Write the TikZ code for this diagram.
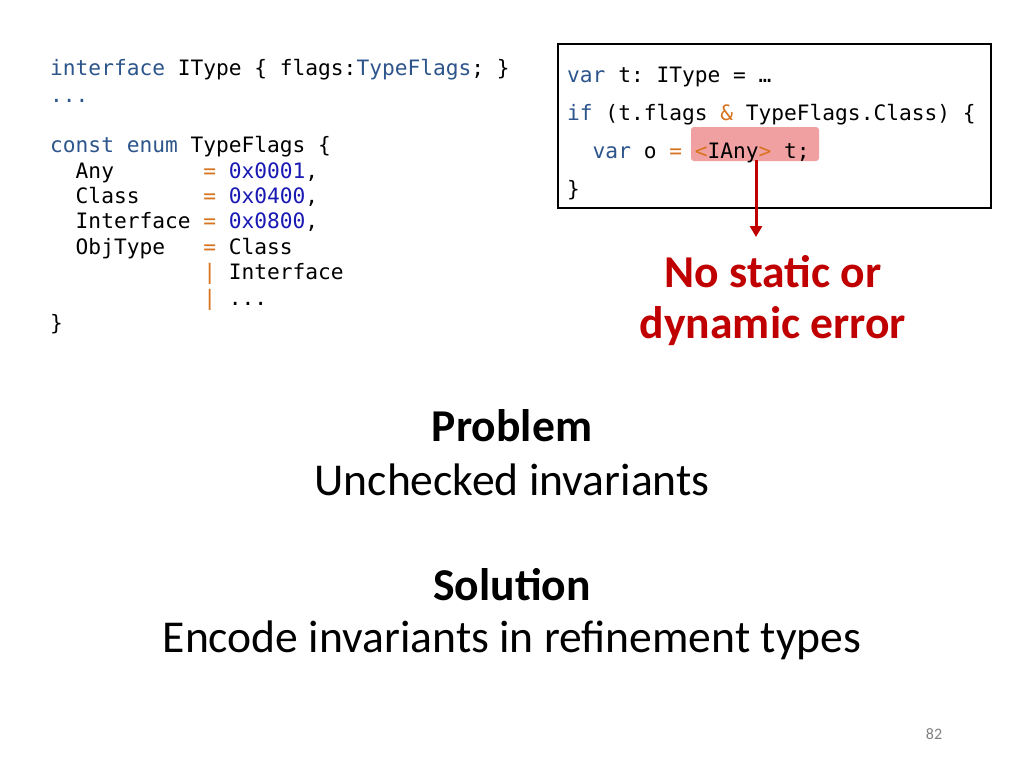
\documentclass[tikz,border=0pt]{standalone}
\usepackage{fontspec}
\usetikzlibrary{arrows.meta}
\setmainfont{Carlito}
\setmonofont{DejaVu Sans Mono}
\definecolor{kw}{RGB}{45,85,140}
\definecolor{num}{RGB}{25,25,180}
\definecolor{op}{RGB}{215,115,30}
\definecolor{alert}{RGB}{192,0,0}
\definecolor{hl}{RGB}{240,160,160}
\newcommand{\K}[1]{\textcolor{kw}{#1}}
\newcommand{\N}[1]{\textcolor{num}{#1}}
\newcommand{\Op}[1]{\textcolor{op}{#1}}
\begin{document}
\begin{tikzpicture}[x=1pt,y=-1pt,
  code/.style={anchor=base west,inner sep=0pt,font=\fontsize{21.2}{25}\ttfamily},
  big/.style={inner sep=0pt,font=\fontsize{45.6}{54}\selectfont},
  bigb/.style={inner sep=0pt,font=\fontsize{45.6}{54}\selectfont\bfseries}]
\useasboundingbox (0,0) rectangle (1024,768);
\fill[white] (0,0) rectangle (1024,768);
% left code
\node[code] (l1) at (50,75) {\K{interface} IType \{ flags:\K{TypeFlags}; \}};
\node[code] (l2) at (50,102) {\K{...}};
\node[code] (l3) at (50,152) {\K{const} \K{enum} TypeFlags \{};
\node[code] (l4) at (50,178) {\ \ Any\ \ \ \ \ \ \ \Op{=} \N{0x0001},};
\node[code] (l5) at (50,203) {\ \ Class\ \ \ \ \ \Op{=} \N{0x0400},};
\node[code] (l6) at (50,228) {\ \ Interface \Op{=} \N{0x0800},};
\node[code] (l7) at (50,254) {\ \ ObjType\ \ \ \Op{=} Class};
\node[code] (l8) at (50,279) {\ \ \ \ \ \ \ \ \ \ \ \ \Op{|} Interface};
\node[code] (l9) at (50,305) {\ \ \ \ \ \ \ \ \ \ \ \ \Op{|} ...};
\node[code] (l10) at (50,330) {\}};
% right box
\fill[hl,rounded corners=3pt] (691,127) rectangle (819,161);
\node[draw,line width=2pt,minimum width=433pt,minimum height=164pt,anchor=north west,inner sep=0pt] (box) at (557,43) {};
\node[code] (r1) at (567,82) {\K{var} t: IType = …};
\node[code] (r2) at (567,120) {\K{if} (t.flags \Op{\&} TypeFlags.Class) \{};
\node[code] (r3) at (567,158) {\ \ \K{var} o \Op{=} \Op{<}IAny\Op{>} t;};
\node[code] (r4) at (567,196) {\}};
\coordinate (hb) at (756,160);
\node[bigb,text=alert] (err1) at (773,272) {No static or};
\node[bigb,text=alert] (err2) at (773,326) {dynamic error};
\draw[alert,line width=3pt,-{Triangle[length=11pt,width=12pt]}] (hb) -- (756,237);
\node[bigb] (p) at (512,426) {Problem};
\node[big] (pt) at (512,480) {Unchecked invariants};
\node[bigb] (s) at (512,585) {Solution};
\node[big] (st) at (512,640) {Encode invariants in refinement types};
\node[text=gray,font=\fontsize{16}{18}\selectfont] (pg) at (934,734) {82};
\end{tikzpicture}
\end{document}
